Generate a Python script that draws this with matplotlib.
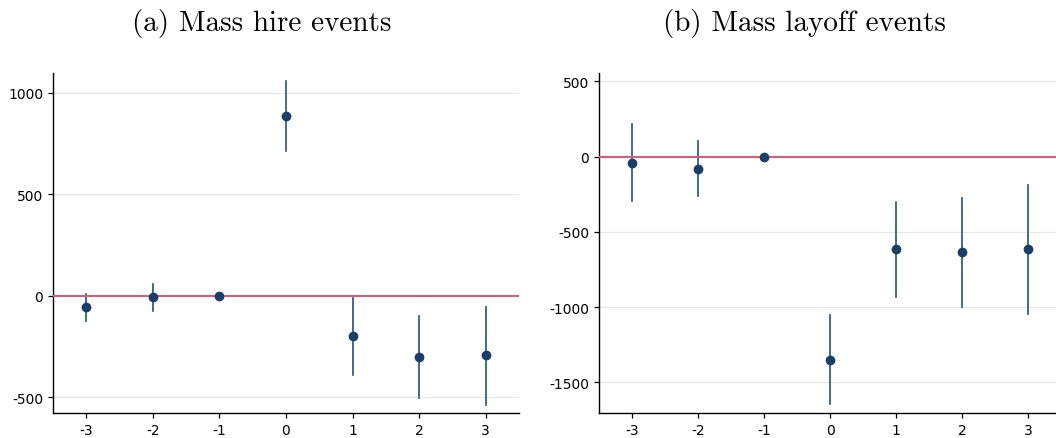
import numpy as np
import matplotlib.pyplot as plt

# --- données ---
event_time = [-3, -2, -1, 0, 1, 2, 3]

hire_coef = [-57, -8, 0, 883, -200, -302, -294]
hire_lo = [-123, -74, 0, 713, -389, -504, -537]
hire_hi = [8, 57, 0, 1056, -11, -102, -54]

layoff_coef = [-40, -80, 0, -1350, -615, -637, -617]
layoff_lo = [-296, -265, 0, -1646, -931, -1000, -1049]
layoff_hi = [217, 106, 0, -1051, -299, -274, -186]

hire_yticks = [-500, 0, 500, 1000]
layoff_yticks = [-1500, -1000, -500, 0, 500]

titles = ["(a) Mass hire events", "(b) Mass layoff events"]

dot_color = "#1a3f66"
bar_color = "#24507f"
zero_color = "#d0607a"

fig = plt.figure(figsize=(10.56, 4.39), dpi=100)
W, H = 1056, 439

def panel(left, right, coef, lo, hi, yticks, ylim, xlim):
    ax = fig.add_axes([left / W, 1 - 414 / H, (right - left) / W, (414 - 74) / H])
    for x, l, h in zip(event_time, lo, hi):
        if l != h:
            ax.plot([x, x], [l, h], color=bar_color, lw=1.2, zorder=2)
    ax.axhline(0, color=zero_color, lw=1.5, zorder=3)
    ax.plot(event_time, coef, "o", color=dot_color, ms=6, zorder=4)
    ax.set_xlim(*xlim)
    ax.set_ylim(*ylim)
    ax.set_xticks(event_time)
    ax.set_xticklabels([str(x) for x in event_time])
    ax.set_yticks(yticks)
    ax.set_yticklabels([str(y) for y in yticks])
    ax.grid(axis="y", color="#e8e8e8", lw=0.9, zorder=0)
    ax.set_axisbelow(True)
    for s in ["top", "right"]:
        ax.spines[s].set_visible(False)
    for s in ["left", "bottom"]:
        ax.spines[s].set_linewidth(1.0)
    ax.tick_params(labelsize=10, length=3.5, width=0.9, color="black")
    return ax

panel(53, 519, hire_coef, hire_lo, hire_hi, hire_yticks, (-578, 1097), (-3.5, 3.5))
panel(599, 1056, layoff_coef, layoff_lo, layoff_hi, layoff_yticks, (-1704, 555), (-3.5, 3.42))

fig.text(261.5 / W, 1 - 23 / H, titles[0], family="cmr10", fontsize=21, ha="center", va="center")
fig.text(804.5 / W, 1 - 23 / H, titles[1], family="cmr10", fontsize=21, ha="center", va="center")

fig.savefig("out.png", dpi=100)
